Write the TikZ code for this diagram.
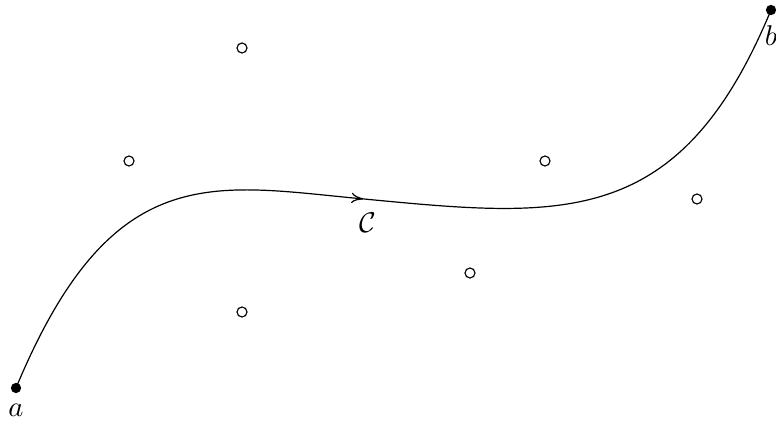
\documentclass[tikz,border=0pt]{standalone}
\usetikzlibrary{arrows.meta}
\begin{document}
\begin{tikzpicture}[x=0.35pt,y=-0.35pt,
  dot/.style={circle,fill=black,inner sep=0pt,minimum size=3.6pt},
  hole/.style={circle,draw=black,line width=0.4pt,inner sep=0pt,minimum size=3.5pt},
  curve/.style={line width=0.42pt}]
\useasboundingbox (0,0) rectangle (776,421);
\node[dot] (a) at (16,388) {};
\node[dot] (b) at (771,10) {};
\node[below] (la) at (a.south) {$a$};
\node[below] (lb) at (b.south) {$b$};
\coordinate (m) at (364,199);
\node[hole] (p1) at (242,48) {};
\node[hole] (p2) at (129,161) {};
\node[hole] (p3) at (545,161) {};
\node[hole] (p4) at (697,199) {};
\node[hole] (p5) at (470,273) {};
\node[hole] (p6) at (242,312) {};
\draw[curve,-{Computer Modern Rightarrow[length=4.4pt,width=3.6pt]}] (a.center) .. controls (112,157) and (213,185) .. (m);
\draw[curve] (m) .. controls (563,218) and (680,230) .. (b.center);
\node (lc) at (368,223) {$\mathcal{C}$};
\end{tikzpicture}
\end{document}
